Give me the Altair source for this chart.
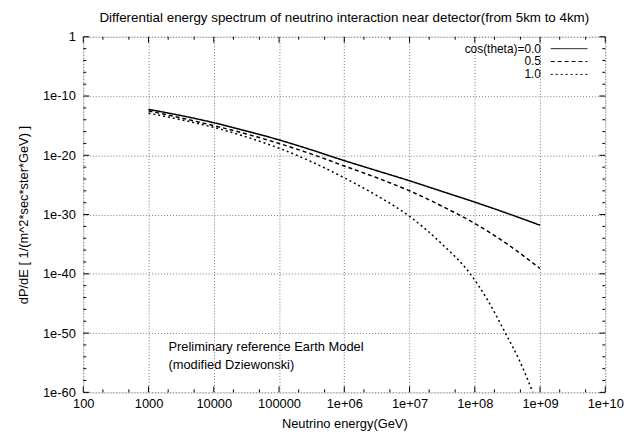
import json
import altair as alt
import pandas as pd

FONT = "Liberation Sans"
FS = 13

# ---- data (log10 values) ----
series_names = ["cos(theta)=0.0", "0.5", "1.0"]
logE_solid = [3.0, 3.5, 4.0, 4.5, 5.0, 5.5, 6.0, 6.5, 7.0, 7.5, 8.0, 8.5, 9.0]
logP_solid = [-12.25, -13.3, -14.5, -15.9, -17.4, -19.1, -20.9, -22.6, -24.3, -26.1, -27.9, -29.8, -31.8]
logE_dashed = [3.0, 3.5, 4.0, 4.5, 5.0, 5.5, 6.0, 6.5, 7.0, 7.5, 8.0, 8.5, 9.0]
logP_dashed = [-12.5, -13.7, -15.0, -16.4, -18.0, -19.8, -21.8, -23.8, -26.0, -28.6, -31.5, -35.0, -39.1]
logE_dotted = [3.0, 3.5, 4.0, 4.5, 5.0, 5.5, 6.0, 6.5, 7.0, 7.5, 7.93, 8.2, 8.46, 8.7, 8.89, 9.0]
logP_dotted = [-12.9, -14.0, -15.3, -16.9, -18.8, -21.1, -23.8, -26.8, -30.3, -35.0, -40.0, -44.5, -49.8, -55.0, -60.0, -63.0]

x_tick_labels = ["100", "1000", "10000", "100000", "1e+06", "1e+07", "1e+08", "1e+09", "1e+10"]
y_tick_labels = ["1e-60", "1e-50", "1e-40", "1e-30", "1e-20", "1e-10", "1"]

title_text = "Differential energy spectrum of neutrino interaction near detector(from 5km to 4km)"
x_title = "Neutrino energy(GeV)"
y_title = "dP/dE [ 1/(m^2*sec*ster*GeV) ]"
note_lines = ["Preliminary reference Earth Model", "(modified Dziewonski)"]

# ---- layout ----
W, H = 527, 359
PAD = {"left": 76, "top": 27, "right": 30, "bottom": 40}

rows = []
for name, le, lp in [(series_names[0], logE_solid, logP_solid),
                     (series_names[1], logE_dashed, logP_dashed),
                     (series_names[2], logE_dotted, logP_dotted)]:
    for a, b in zip(le, lp):
        rows.append({"series": name, "E": 10.0 ** a, "P": 10.0 ** b})
df = pd.DataFrame(rows)

xscale = alt.Scale(type="log", domain=[1e2, 1e10])
yscale = alt.Scale(type="log", domain=[1e-60, 1.0])

x_major = [float(f"1e{k}") for k in range(2, 11)]
y_major = [float(f"1e{k}") for k in range(-60, 1, 10)]
x_minor = [m * float(f"1e{k}") for k in range(2, 10) for m in (2, 5)]
y_minor = [float(f"1e{k}") for k in range(-58, 0, 2) if k % 10 != 0]

x_label_expr = f"{json.dumps(x_tick_labels)}[round(log(datum.value)/LN10) - 2]"
y_label_expr = f"{json.dumps(y_tick_labels)}[round(log(datum.value)/LN10)/10 + 6]"

x_axis = alt.Axis(values=x_major, labelExpr=x_label_expr, ticks=False, domain=False,
                  grid=True, gridDash=[1, 2], gridColor="#777", labelPadding=5,
                  titlePadding=7, labelFont=FONT, titleFont=FONT, labelFontSize=FS,
                  titleFontSize=FS, titleFontWeight="normal", labelColor="black",
                  titleColor="black", labelFlush=False)
y_axis = alt.Axis(values=y_major, labelExpr=y_label_expr, ticks=False, domain=False,
                  grid=True, gridDash=[1, 2], gridColor="#777", labelPadding=8,
                  titlePadding=12, labelFont=FONT, titleFont=FONT, labelFontSize=FS,
                  titleFontSize=FS, titleFontWeight="normal", labelColor="black",
                  titleColor="black", labelFlush=False)

X_ENC = alt.X("E:Q", scale=xscale, title=x_title, axis=x_axis)
Y_ENC = alt.Y("P:Q", scale=yscale, title=y_title, axis=y_axis)

lines = alt.Chart(df).mark_line(clip=True, color="black", strokeWidth=1.5,
                                interpolate="monotone").encode(
    x=X_ENC,
    y=Y_ENC,
    strokeDash=alt.StrokeDash("series:N", scale=alt.Scale(domain=series_names,
                              range=[[1, 0], [4, 3], [2, 3]]), legend=None),
    order="E:Q",
)

layers = [lines]


def xticks(vals, length):
    d = pd.DataFrame({"E": vals})
    bot = alt.Chart(d).mark_rule(color="black").encode(
        x=X_ENC, y=alt.value(H), y2=alt.value(H - length))
    top = alt.Chart(d).mark_rule(color="black").encode(
        x=X_ENC, y=alt.value(0), y2=alt.value(length))
    return [bot, top]


def yticks(vals, length):
    d = pd.DataFrame({"P": vals})
    left = alt.Chart(d).mark_rule(color="black").encode(
        y=Y_ENC, x=alt.value(0), x2=alt.value(length))
    right = alt.Chart(d).mark_rule(color="black").encode(
        y=Y_ENC, x=alt.value(W), x2=alt.value(W - length))
    return [left, right]


layers += xticks(x_major, 6) + xticks(x_minor, 3) + yticks(y_major, 6) + yticks(y_minor, 3)

# legend (gnuplot style: text left of sample)
dashes = [[1, 0], [4, 3], [2, 3]]
for i, (name, dash) in enumerate(zip(series_names, dashes)):
    yy = 12 + 13 * i
    d = pd.DataFrame({"t": [name]})
    layers.append(alt.Chart(d).mark_text(align="right", baseline="middle", font=FONT,
                                         fontSize=12, color="black").encode(
        text="t:N", x=alt.value(462), y=alt.value(yy)))
    layers.append(alt.Chart(d).mark_rule(color="black", strokeDash=dash, strokeWidth=1).encode(
        x=alt.value(472), x2=alt.value(509), y=alt.value(yy)))

for i, line in enumerate(note_lines):
    d = pd.DataFrame({"t": [line]})
    layers.append(alt.Chart(d).mark_text(align="left", baseline="middle", font=FONT,
                                         fontSize=FS, color="black").encode(
        text="t:N", x=alt.value(86), y=alt.value(313 + 18 * i)))

chart = alt.layer(*layers).properties(
    width=W, height=H,
    title=alt.TitleParams(title_text, font=FONT, fontSize=13.5, fontWeight="normal",
                          color="black", offset=6, anchor="middle"),
    autosize=alt.AutoSizeParams(type="none"),
    padding=PAD,
).configure_view(stroke="black", strokeWidth=1).configure(background="white")

chart.save("out.html", embed_options={"renderer": "svg", "actions": False})
